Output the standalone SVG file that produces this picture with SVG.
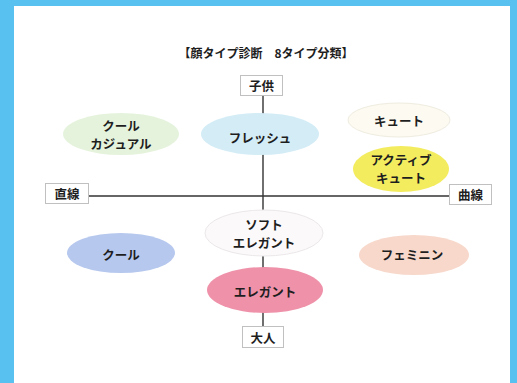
<svg xmlns="http://www.w3.org/2000/svg" width="517" height="383" viewBox="0 0 517 383">
<style>
text{font-family:"Noto Sans CJK JP","Noto Sans CJK SC",sans-serif;font-weight:bold;fill:#1e1e1e;text-anchor:middle;dominant-baseline:central}
.t{font-size:12.5px}
.lbl{fill:#fff;stroke:#c0c0c0;stroke-width:1}
.ax{stroke:#333;stroke-width:1.4;fill:none}
</style>
<rect x="0" y="0" width="517" height="383" fill="#58c1ef"/>
<rect x="14" y="6" width="496" height="377" fill="#ffffff"/>
<text x="266" y="52" font-size="12">【顔タイプ診断　8タイプ分類】</text>
<g id="connectors">
<line class="ax" x1="263" y1="95" x2="263" y2="327"/>
<line class="ax" x1="88" y1="196" x2="449" y2="196"/>
</g>
<g id="kodomo"><rect class="lbl" x="240.5" y="75.5" width="42" height="20"/><text class="t" x="261.5" y="85.5">子供</text></g>
<g id="otona"><rect class="lbl" x="242.5" y="326.5" width="41" height="21"/><text class="t" x="263" y="337">大人</text></g>
<g id="chokusen"><rect class="lbl" x="45.5" y="183.5" width="43" height="20"/><text class="t" x="67" y="193.5">直線</text></g>
<g id="kyokusen"><rect class="lbl" x="449.5" y="184.5" width="42" height="20"/><text class="t" x="470.5" y="194.5">曲線</text></g>
<g id="cool-casual"><ellipse cx="121" cy="134" rx="58" ry="21" fill="#e5f3dc"/><text class="t" x="121" y="125">クール</text><text class="t" x="121" y="143">カジュアル</text></g>
<g id="fresh"><ellipse cx="260" cy="134" rx="59" ry="21" fill="#d3ecf6"/><text class="t" x="260" y="137">フレッシュ</text></g>
<g id="cute"><ellipse cx="399" cy="120" rx="51" ry="17" fill="#fcfaf1" stroke="#efece0" stroke-width="1"/><text class="t" x="399" y="120">キュート</text></g>
<g id="active-cute"><ellipse cx="401" cy="169" rx="48" ry="23" fill="#f3ec5e"/><text class="t" x="401" y="159.5">アクティブ</text><text class="t" x="401" y="177.8">キュート</text></g>
<g id="soft-elegant"><ellipse cx="264" cy="233" rx="59" ry="23" fill="#fbf9fa" stroke="#ece8ea" stroke-width="1"/><text class="t" x="264" y="224.5">ソフト</text><text class="t" x="264" y="242.8">エレガント</text></g>
<g id="cool"><ellipse cx="121" cy="253" rx="54" ry="20" fill="#b6c8ee"/><text class="t" x="121" y="254">クール</text></g>
<g id="feminine"><ellipse cx="414" cy="255" rx="55" ry="20" fill="#f7d8cb"/><text class="t" x="412" y="254">フェミニン</text></g>
<g id="elegant"><ellipse cx="265" cy="290" rx="58" ry="23" fill="#ee91a9"/><text class="t" x="265" y="291">エレガント</text></g>
</svg>
